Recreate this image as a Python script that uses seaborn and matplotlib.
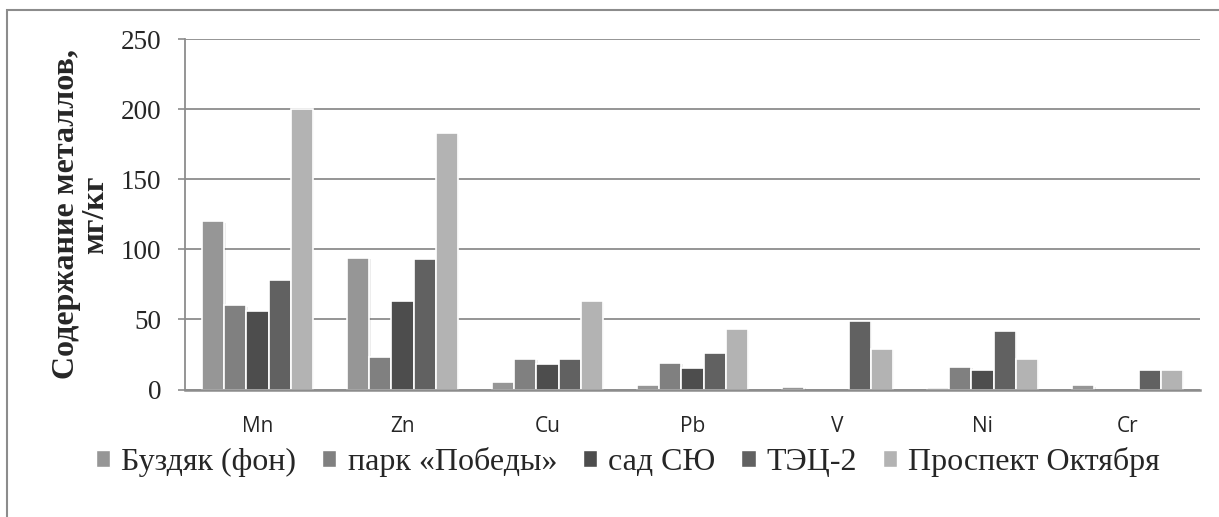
import matplotlib
matplotlib.use("Agg")
import matplotlib.pyplot as plt
import matplotlib.patheffects as pe
from matplotlib.patches import Rectangle, Patch
from matplotlib.font_manager import FontProperties
import seaborn as sns
import pandas as pd

# ---- data ----
metals = ["Mn", "Zn", "Cu", "Pb", "V", "Ni", "Cr"]
sites = ["Буздяк (фон)", "парк «Победы»", "сад СЮ", "ТЭЦ-2", "Проспект Октября"]
buzdyak = [120, 94, 5, 3, 2, 1, 3]
park_pobedy = [60, 23, 22, 19, 0, 16, 0]
sad_syu = [56, 63, 18, 15, 0, 14, 0]
tec2 = [78, 93, 22, 26, 49, 42, 14]
prospekt = [200, 183, 63, 43, 29, 22, 14]
yticks = [0, 50, 100, 150, 200, 250]
ylabel = "Содержание металлов,\nмг/кг"

colors = ["#969696", "#808080", "#4d4d4d", "#616161", "#b3b3b3"]

series = [buzdyak, park_pobedy, sad_syu, tec2, prospekt]
rows = []
for s, vals in zip(sites, series):
    for m, v in zip(metals, vals):
        rows.append({"metal": m, "site": s, "value": v})
df = pd.DataFrame(rows)

sns.set_theme(style="white")
plt.rcParams["font.family"] = ["Liberation Serif", "DejaVu Sans"]

fig = plt.figure(figsize=(12.19, 5.17), dpi=100)
ax = fig.add_axes([185 / 1219, 1 - 389.5 / 517, (1200 - 185) / 1219, (389.5 - 39.3) / 517])

sns.barplot(data=df, x="metal", y="value", hue="site", order=metals,
            hue_order=sites, palette=colors, width=0.76, ax=ax,
            edgecolor="white", linewidth=1.2, saturation=1, legend=False)

for p in ax.patches:
    if p.get_height() > 0:
        p.set_path_effects([pe.SimplePatchShadow(offset=(1, -1), shadow_rgbFace="k", alpha=0.08),
                            pe.Normal()])
    else:
        p.set_visible(False)

serif = FontProperties(family="Liberation Serif", size=19.5)
ax.set_ylim(0, 250)
ax.set_yticks(yticks)
ax.set_yticklabels([str(t) for t in yticks])
for t in ax.get_yticklabels():
    t.set_fontproperties(serif)
ax.set_xlim(-0.5, len(metals) - 0.5)
ax.set_xticks(range(len(metals)))
ax.set_xticklabels(metals)
for t in ax.get_xticklabels():
    t.set_fontproperties(FontProperties(family="Open Sans", size=15))
ax.tick_params(axis="y", length=5, width=1.2, color="#8c8c8c", pad=12, left=True)
ax.tick_params(axis="x", length=0, pad=19)

ax.grid(axis="y", color="#8c8c8c", linewidth=1.3)
ax.set_axisbelow(True)
for side in ["top", "right"]:
    ax.spines[side].set_visible(False)
ax.spines["left"].set_color("#8c8c8c")
ax.spines["left"].set_linewidth(1.3)
ax.spines["bottom"].set_color("#8c8c8c")
ax.spines["bottom"].set_linewidth(1.8)

ax.set_xlabel("")
ax.set_ylabel(ylabel, multialignment="center", linespacing=1.0)
ax.yaxis.label.set_fontproperties(FontProperties(family="Liberation Serif", size=23, weight="bold"))
ax.yaxis.set_label_coords((110 - 185) / 1015, 0.5)

# legend
handles = [Patch(facecolor=c, edgecolor="white") for c in colors]
leg = fig.legend(handles, sites, loc="center", bbox_to_anchor=(628 / 1219, 1 - 462 / 517),
                 ncol=5, frameon=False, handlelength=0.45, handleheight=0.45,
                 handletextpad=0.35, columnspacing=0.8,
                 prop=FontProperties(family="Liberation Serif", size=23))

# outer chart border (cut at right/bottom like the source)
fig.patches.append(Rectangle((7 / 1219, -0.2), 1.2, 0.2 + 1 - 10 / 517,
                             transform=fig.transFigure, fill=False,
                             edgecolor="#8c8c8c", linewidth=1.5))

fig.savefig("out.png", dpi=100)
